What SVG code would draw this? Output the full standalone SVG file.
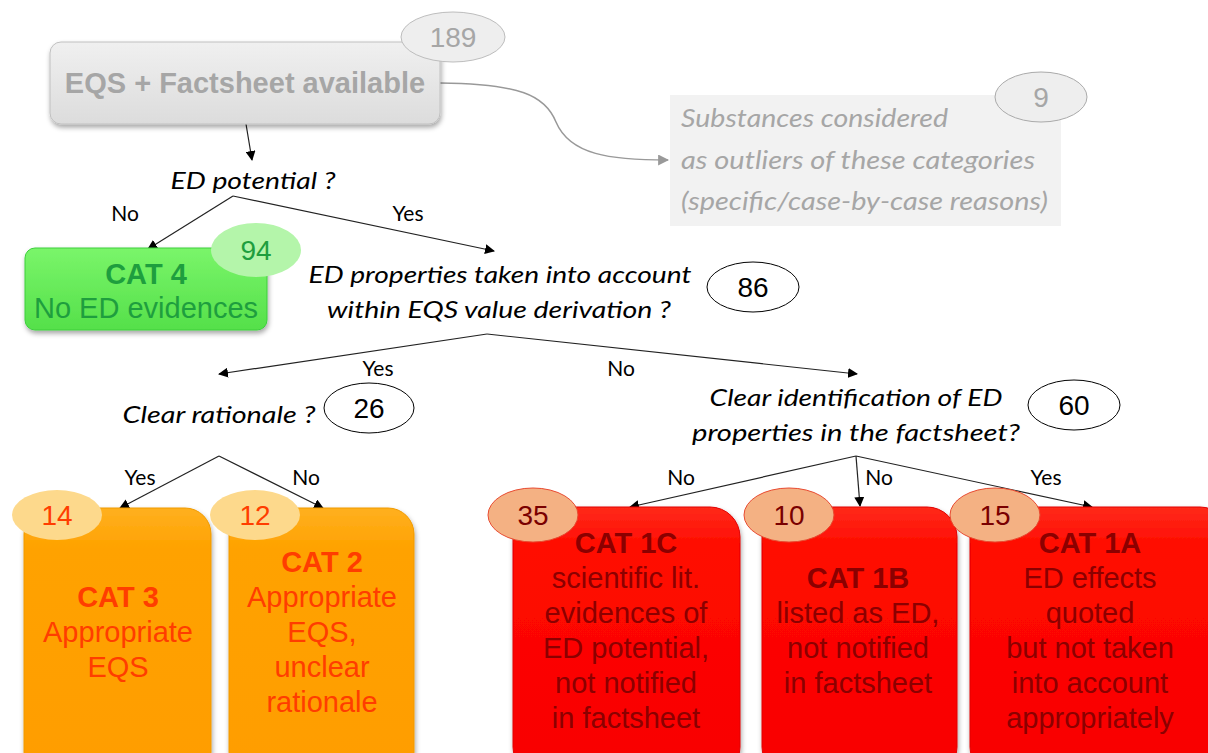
<svg xmlns="http://www.w3.org/2000/svg" width="1208" height="753" viewBox="0 0 1208 753">
<style>
.q{font-family:Lato,"Open Sans",sans-serif;font-style:italic;font-size:24px;fill:#000;text-anchor:middle}
.yn{font-family:Lato,"Open Sans",sans-serif;font-size:21px;fill:#000;text-anchor:middle}
.bx{font-family:"Liberation Sans",Arial,sans-serif;font-size:29px;text-anchor:middle}
.b{font-weight:bold}
.num{font-family:"Liberation Sans",Arial,sans-serif;font-size:28px;text-anchor:middle}
.out{font-family:Lato,"Open Sans",sans-serif;font-style:italic;font-size:25px;fill:#a6a6a6}
.con{stroke:#222;stroke-width:1.2;fill:none;marker-end:url(#ah)}
</style>
<defs>
<marker id="ah" viewBox="0 0 10 10" refX="9" refY="5" markerWidth="10" markerHeight="10" markerUnits="userSpaceOnUse" orient="auto"><path d="M0,0 L10,5 L0,10 z" fill="#000"/></marker>
<marker id="ahg" viewBox="0 0 10 10" refX="9" refY="5" markerWidth="11" markerHeight="11" markerUnits="userSpaceOnUse" orient="auto"><path d="M0,0 L10,5 L0,10 z" fill="#999"/></marker>
<filter id="sh" x="-10%" y="-10%" width="120%" height="130%"><feDropShadow dx="1" dy="3" stdDeviation="2.5" flood-color="#000" flood-opacity="0.35"/></filter>
<linearGradient id="gGray" x1="0" y1="0" x2="0" y2="1"><stop offset="0" stop-color="#f0f0f0"/><stop offset="1" stop-color="#dcdcdc"/></linearGradient>
<linearGradient id="gGreen" x1="0" y1="0" x2="0" y2="1"><stop offset="0" stop-color="#7af56a"/><stop offset="1" stop-color="#55e04a"/></linearGradient>
<linearGradient id="gOr" x1="0" y1="0" x2="0" y2="1"><stop offset="0" stop-color="#ffb020"/><stop offset="0.15" stop-color="#ffa200"/><stop offset="1" stop-color="#ff9d00"/></linearGradient>
<linearGradient id="gRed" x1="0" y1="0" x2="0" y2="1"><stop offset="0" stop-color="#ff2a1a"/><stop offset="0.15" stop-color="#ff0a00"/><stop offset="1" stop-color="#f80000"/></linearGradient>
</defs>
<rect width="1208" height="753" fill="#fff"/>

<g id="connectors">
<line class="con" x1="246" y1="124" x2="252" y2="160"/>
<polyline class="con" points="233,196 148,249"/>
<polyline class="con" points="233,196 494,251"/>
<polyline class="con" points="487,334 219,374"/>
<polyline class="con" points="487,334 857,374"/>
<polyline class="con" points="219,456 120,508"/>
<polyline class="con" points="219,456 323,508"/>
<polyline class="con" points="856,456 630,507"/>
<polyline class="con" points="856,456 860,506"/>
<polyline class="con" points="856,456 1092,507"/>
<path d="M440,83 C520,84 545,95 556,122 C570,155 610,160 668,160" stroke="#999" stroke-width="1.5" fill="none" marker-end="url(#ahg)"/>
<text class="yn" x="125" y="221">No</text>
<text class="yn" x="408" y="221">Yes</text>
<text class="yn" x="378" y="376">Yes</text>
<text class="yn" x="621" y="376">No</text>
<text class="yn" x="140" y="485">Yes</text>
<text class="yn" x="306" y="485">No</text>
<text class="yn" x="681" y="485">No</text>
<text class="yn" x="879" y="485">No</text>
<text class="yn" x="1046" y="485">Yes</text>
</g>

<g id="start">
<rect x="50" y="42" width="390" height="82" rx="11" fill="url(#gGray)" stroke="#c0c0c0" filter="url(#sh)"/>
<text class="bx b" x="245" y="93" fill="#a6a6a6">EQS + Factsheet available</text>
<ellipse cx="453" cy="37" rx="52" ry="25" fill="#eeeeee" stroke="#bdbdbd"/>
<text class="num" x="453" y="47" fill="#a6a6a6">189</text>
</g>

<g id="outliers">
<rect x="670" y="95" width="391" height="131" fill="#f2f2f2"/>
<text class="out" x="681" y="127" textLength="267" lengthAdjust="spacingAndGlyphs">Substances considered</text>
<text class="out" x="681" y="169" textLength="354" lengthAdjust="spacingAndGlyphs">as outliers of these categories</text>
<text class="out" x="681" y="210" textLength="367" lengthAdjust="spacingAndGlyphs">(specific/case-by-case reasons)</text>
<ellipse cx="1041" cy="97" rx="46" ry="25" fill="#eeeeee" stroke="#aaaaaa"/>
<text class="num" x="1041" y="107" fill="#a6a6a6">9</text>
</g>

<g id="q-ed-potential">
<text class="q" x="253" y="189" textLength="165" lengthAdjust="spacingAndGlyphs">ED potential ?</text>
</g>

<g id="cat4">
<rect x="25" y="248" width="242" height="82" rx="10" fill="url(#gGreen)" stroke="#3ccf3c" filter="url(#sh)"/>
<text class="bx b" x="146" y="284" fill="#1e9e3e">CAT 4</text>
<text class="bx" x="146" y="318" fill="#1e9e3e">No ED evidences</text>
<ellipse cx="256" cy="250" rx="45" ry="27" fill="#b4f5aa"/>
<text class="num" x="256" y="260" fill="#1e9e3e">94</text>
</g>

<g id="q-ed-properties">
<text class="q" x="500" y="283" textLength="383" lengthAdjust="spacingAndGlyphs">ED properties taken into account</text>
<text class="q" x="499" y="318" textLength="344" lengthAdjust="spacingAndGlyphs">within EQS value derivation ?</text>
<ellipse cx="753" cy="287" rx="46" ry="25" fill="#fff" stroke="#000"/>
<text class="num" x="753" y="297" fill="#000">86</text>
</g>

<g id="q-rationale">
<text class="q" x="219" y="423" textLength="193" lengthAdjust="spacingAndGlyphs">Clear rationale ?</text>
<ellipse cx="369" cy="408" rx="45" ry="25" fill="#fff" stroke="#000"/>
<text class="num" x="369" y="418" fill="#000">26</text>
</g>

<g id="q-identification">
<text class="q" x="856" y="406" textLength="293" lengthAdjust="spacingAndGlyphs">Clear identification of ED</text>
<text class="q" x="856" y="441" textLength="328" lengthAdjust="spacingAndGlyphs">properties in the factsheet?</text>
<ellipse cx="1074" cy="405" rx="46" ry="25" fill="#fff" stroke="#000"/>
<text class="num" x="1074" y="415" fill="#000">60</text>
</g>

<g id="cat3">
<rect x="24" y="508" width="187" height="270" rx="26" fill="url(#gOr)" stroke="#f09a00" filter="url(#sh)"/>
<text class="bx b" x="118" y="607" fill="#ff3d00">CAT 3</text>
<text class="bx" x="118" y="642" fill="#ff3d00">Appropriate</text>
<text class="bx" x="118" y="677" fill="#ff3d00">EQS</text>
<ellipse cx="57" cy="515" rx="45" ry="25" fill="#fdd98c"/>
<text class="num" x="57" y="525" fill="#ff3d00">14</text>
</g>

<g id="cat2">
<rect x="229" y="508" width="185" height="270" rx="26" fill="url(#gOr)" stroke="#f09a00" filter="url(#sh)"/>
<text class="bx b" x="322" y="572" fill="#ff3d00">CAT 2</text>
<text class="bx" x="322" y="607" fill="#ff3d00">Appropriate</text>
<text class="bx" x="322" y="642" fill="#ff3d00">EQS,</text>
<text class="bx" x="322" y="677" fill="#ff3d00">unclear</text>
<text class="bx" x="322" y="712" fill="#ff3d00">rationale</text>
<ellipse cx="255" cy="515" rx="45" ry="25" fill="#fdd98c"/>
<text class="num" x="255" y="525" fill="#ff3d00">12</text>
</g>

<g id="cat1c">
<rect x="513" y="507" width="227" height="270" rx="30" fill="url(#gRed)" stroke="#e00000" filter="url(#sh)"/>
<text class="bx b" x="626" y="553" fill="#8b0000">CAT 1C</text>
<text class="bx" x="626" y="588" fill="#8b0000">scientific lit.</text>
<text class="bx" x="626" y="623" fill="#8b0000">evidences of</text>
<text class="bx" x="626" y="658" fill="#8b0000">ED potential,</text>
<text class="bx" x="626" y="693" fill="#8b0000">not notified</text>
<text class="bx" x="626" y="728" fill="#8b0000">in factsheet</text>
<ellipse cx="533" cy="515" rx="45" ry="27" fill="#f4b183" stroke="#e84a30"/>
<text class="num" x="533" y="525" fill="#7a0000">35</text>
</g>

<g id="cat1b">
<rect x="762" y="507" width="195" height="270" rx="30" fill="url(#gRed)" stroke="#e00000" filter="url(#sh)"/>
<text class="bx b" x="858" y="588" fill="#8b0000">CAT 1B</text>
<text class="bx" x="858" y="623" fill="#8b0000">listed as ED,</text>
<text class="bx" x="858" y="658" fill="#8b0000">not notified</text>
<text class="bx" x="858" y="693" fill="#8b0000">in factsheet</text>
<ellipse cx="789" cy="515" rx="45" ry="27" fill="#f4b183" stroke="#e84a30"/>
<text class="num" x="789" y="525" fill="#7a0000">10</text>
</g>

<g id="cat1a">
<rect x="970" y="507" width="260" height="270" rx="30" fill="url(#gRed)" stroke="#e00000" filter="url(#sh)"/>
<text class="bx b" x="1090" y="553" fill="#8b0000">CAT 1A</text>
<text class="bx" x="1090" y="588" fill="#8b0000">ED effects</text>
<text class="bx" x="1090" y="623" fill="#8b0000">quoted</text>
<text class="bx" x="1090" y="658" fill="#8b0000">but not taken</text>
<text class="bx" x="1090" y="693" fill="#8b0000">into account</text>
<text class="bx" x="1090" y="728" fill="#8b0000">appropriately</text>
<ellipse cx="995" cy="515" rx="45" ry="27" fill="#f4b183" stroke="#e84a30"/>
<text class="num" x="995" y="525" fill="#7a0000">15</text>
</g>
</svg>
